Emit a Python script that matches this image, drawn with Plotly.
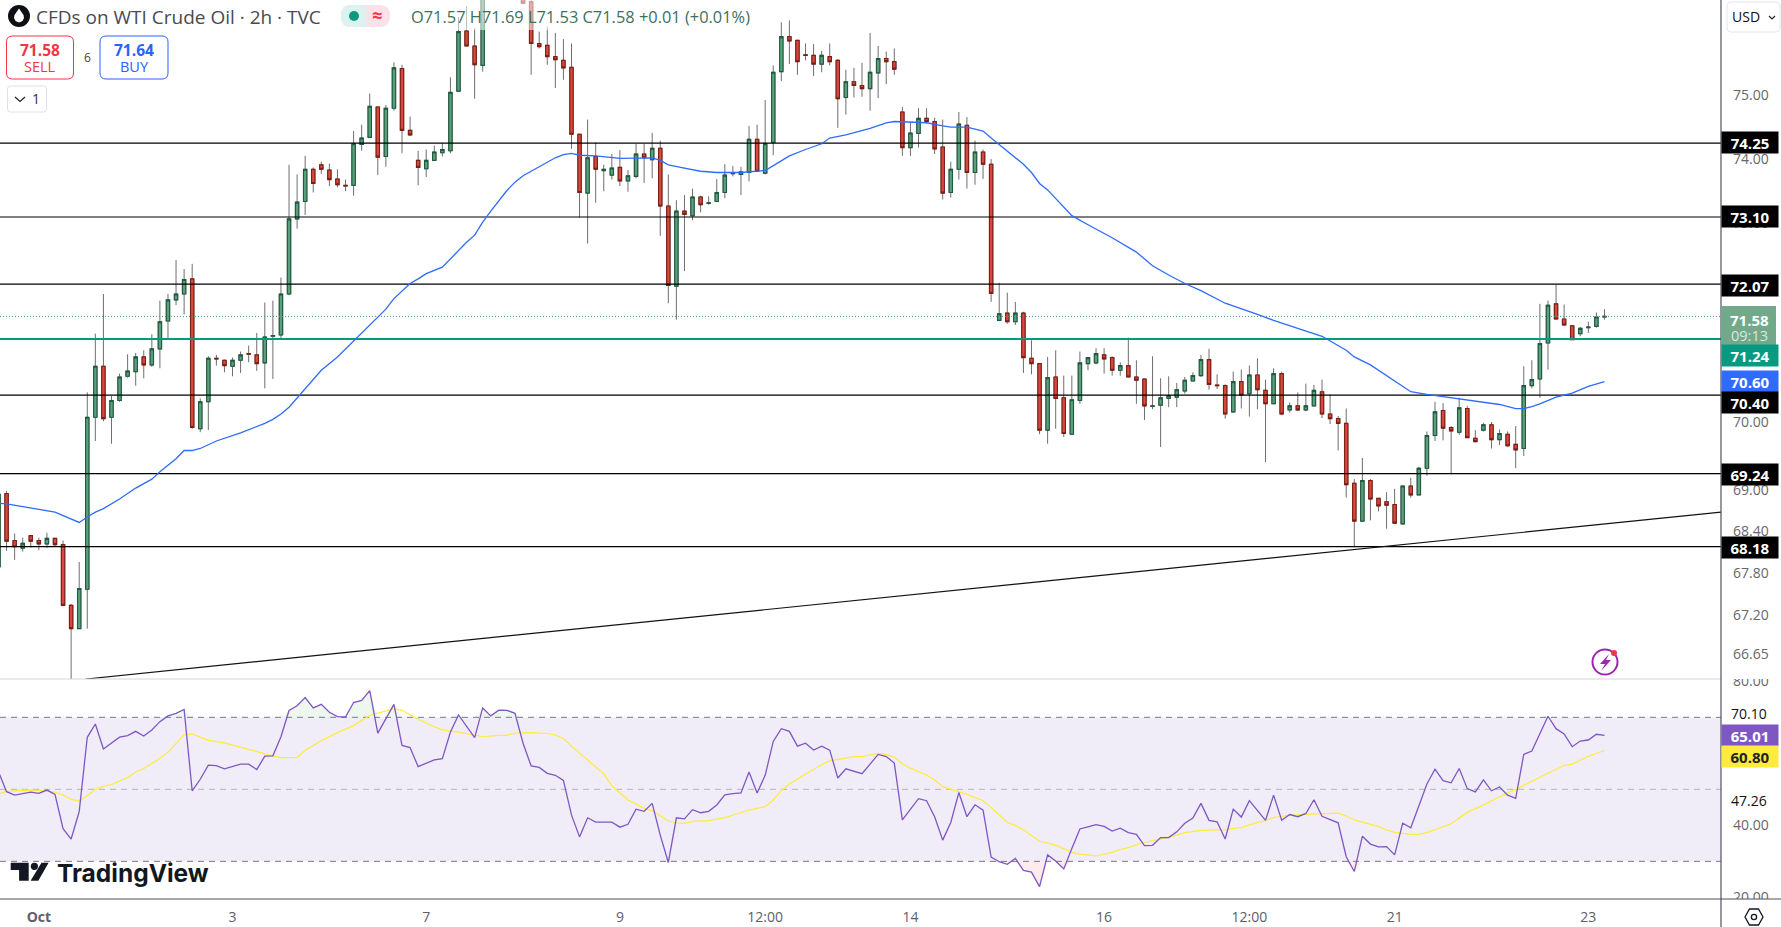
import math
import numpy as np
import plotly.graph_objects as go

N = None
opens = [67.89,68.95,68.27,68.16,68.34,68.27,68.22,68.30,68.21,67.34,
67.01,67.57,70.07,70.83,70.07,70.32,70.68,70.75,70.97,70.85,
71.09,71.51,71.83,71.92,72.15,69.90,70.30,70.95,70.92,70.83,
70.92,71.02,71.00,70.88,71.28,71.30,71.92,73.07,73.34,73.84,
73.91,73.83,73.69,73.59,73.59,74.23,74.34,74.82,74.04,74.80,
75.43,74.45,73.98,73.85,73.98,74.10,74.13,75.07,76.03,75.79,
75.48,N,N,N,N,76.60,76.50,75.83,75.80,75.62,
75.56,75.45,74.39,73.47,74.04,73.82,73.75,73.87,73.66,73.73,
74.08,73.99,74.17,73.27,72.04,73.19,73.12,73.41,73.31,73.34,
73.48,73.77,73.76,73.79,74.31,73.78,74.26,75.38,75.94,75.88,
75.65,75.64,75.50,75.62,75.56,74.97,75.22,75.16,75.11,75.36,
75.59,75.54,74.74,74.18,74.40,74.64,74.59,74.19,73.48,73.84,
74.53,73.79,74.11,73.92,71.52,71.63,71.50,71.63,70.95,70.87,
69.88,70.67,70.36,69.82,70.32,70.87,70.88,71.00,70.96,70.77,
70.84,70.67,70.64,70.23,70.25,70.35,70.37,70.46,70.61,70.69,
70.93,70.55,70.54,70.15,70.60,70.42,70.70,70.47,70.27,70.72,
70.18,70.24,70.18,70.24,70.45,70.12,70.05,69.98,69.10,68.55,
69.14,68.88,68.83,68.79,68.51,69.06,68.93,69.32,69.80,70.17,
69.92,69.85,70.20,69.76,69.88,69.96,69.74,69.82,69.67,69.61,
70.54,70.64,71.18,71.77,71.54,71.44,71.32,71.41,71.43,71.57]
highs = [68.98,68.99,68.37,68.31,68.34,68.31,68.38,68.30,68.27,67.36,
67.96,70.44,71.32,71.92,70.39,70.72,71.01,71.03,71.07,71.31,
71.82,71.92,72.44,72.30,72.38,70.35,70.98,71.00,70.93,70.96,
71.05,71.14,71.33,71.79,71.82,72.17,73.91,73.76,74.05,73.87,
73.96,73.93,73.84,73.68,74.44,74.54,75.03,74.82,74.85,75.53,
75.49,74.67,74.13,74.15,74.21,74.25,75.29,76.26,76.43,76.08,
76.90,N,N,N,N,76.70,76.70,76.02,76.10,76.00,
75.90,75.83,74.39,74.62,74.26,73.91,74.08,74.14,73.83,74.24,
74.24,74.41,74.29,73.76,73.36,73.44,73.54,73.43,73.42,73.69,
73.92,73.89,73.88,74.52,74.54,74.93,75.48,76.17,76.20,75.89,
75.83,75.82,75.71,75.83,75.58,75.41,75.44,75.52,76.00,75.79,
75.70,75.75,74.82,74.59,74.80,74.80,74.65,74.62,73.96,74.74,
74.66,74.29,74.15,74.00,72.09,71.94,71.80,71.65,71.22,70.87,
70.97,71.07,70.69,70.69,71.05,70.96,71.10,71.10,70.98,70.89,
71.26,70.92,70.64,70.98,70.65,70.68,70.58,70.67,70.74,71.00,
71.09,70.71,70.56,70.75,70.78,70.84,70.95,70.63,70.80,70.75,
70.29,70.44,70.57,70.55,70.63,70.41,70.09,70.20,69.16,69.47,
69.16,68.88,68.97,69.02,69.06,69.18,69.34,69.86,70.30,70.28,
69.94,70.36,70.24,69.88,69.99,70.00,69.89,69.86,69.94,70.83,
70.92,71.77,71.82,72.06,71.76,71.45,71.42,71.50,71.64,71.69]
lows = [67.80,68.12,67.99,68.11,68.17,68.13,68.16,68.18,67.33,66.28,
67.01,67.01,69.72,70.01,69.68,70.30,70.66,70.54,70.65,70.82,
70.80,71.23,71.75,71.61,69.90,69.85,69.88,70.84,70.74,70.68,
70.73,70.89,70.76,70.50,70.64,71.24,71.90,72.92,73.13,73.48,
73.77,73.58,73.56,73.50,73.43,74.13,74.34,73.75,73.88,74.76,
74.09,74.36,73.59,73.72,73.98,74.04,74.09,75.07,75.79,74.95,
75.38,N,N,N,N,76.47,75.33,75.75,75.49,75.12,
75.25,74.16,73.09,72.69,73.32,73.50,73.68,73.58,73.49,73.70,
73.63,73.70,72.81,71.78,71.53,72.27,73.05,73.17,73.29,73.34,
73.39,73.73,73.44,73.65,73.81,73.76,74.06,75.23,75.50,75.33,
75.56,75.31,75.37,75.48,74.49,74.70,74.97,74.98,74.76,74.96,
75.18,75.33,74.05,74.05,74.18,74.56,74.08,73.37,73.40,73.68,
73.54,73.60,73.69,71.80,71.52,71.47,71.45,70.73,70.71,69.82,
69.68,69.90,69.78,69.81,70.27,70.77,70.86,70.72,70.69,70.69,
70.67,70.27,70.03,70.19,69.63,70.22,70.22,70.42,70.61,70.67,
70.48,70.49,70.05,70.14,70.20,70.08,70.19,69.41,70.27,70.10,
70.14,70.16,70.16,70.24,70.06,69.97,69.58,68.89,68.17,68.54,
68.56,68.69,68.44,68.52,68.50,68.89,68.93,69.21,69.72,69.73,
69.23,69.81,69.77,69.71,69.86,69.61,69.66,69.63,69.32,69.50,
70.50,70.36,70.78,71.54,71.44,71.23,71.28,71.33,71.41,71.53]
closes = [68.94,68.26,68.18,68.23,68.26,68.22,68.30,68.21,67.34,67.01,
67.58,70.07,70.83,70.05,70.32,70.67,70.76,70.97,70.85,71.09,
71.50,71.83,71.92,72.14,69.92,70.30,70.95,70.94,70.84,70.92,
71.00,71.01,70.87,71.27,71.29,71.92,73.07,73.33,73.84,73.62,
73.84,73.68,73.60,73.58,74.24,74.33,74.83,74.03,74.80,75.44,
74.45,74.38,73.87,73.98,74.11,74.15,75.05,76.02,75.79,75.49,
76.60,N,N,N,N,76.48,75.83,75.78,75.62,75.57,
75.44,74.39,73.48,74.02,73.84,73.84,73.86,73.66,73.74,74.08,
74.02,74.17,73.27,72.05,73.19,73.14,73.41,73.29,73.32,73.48,
73.75,73.78,73.80,74.31,73.81,74.24,75.37,75.94,75.87,75.54,
75.64,75.50,75.64,75.54,74.95,75.22,75.16,75.11,75.37,75.59,
75.54,75.42,74.18,74.41,74.64,74.59,74.16,73.47,73.84,74.55,
73.79,74.11,73.92,71.93,71.62,71.50,71.63,70.96,70.87,69.88,
70.66,70.35,69.83,70.33,70.88,70.96,71.02,70.94,70.77,70.84,
70.67,70.62,70.24,70.24,70.36,70.39,70.48,70.62,70.69,70.93,
70.56,70.54,70.12,70.60,70.40,70.70,70.48,70.27,70.72,70.12,
70.24,70.18,70.24,70.47,70.12,70.05,69.98,69.08,68.55,69.14,
68.87,68.77,68.78,68.52,69.06,68.93,69.32,69.80,70.15,69.91,
69.87,70.21,69.77,69.71,69.96,69.74,69.83,69.65,69.59,70.54,
70.63,71.17,71.75,71.54,71.45,71.23,71.40,71.42,71.57,71.58]

ma_points = [(0,68.81),(1,68.80),(7,68.68),(10,68.53),(11,68.61),(12,68.68),(13,68.73),(15,68.87),(17,69.03),(19,69.16),
(20,69.27),(22,69.46),(23,69.58),(24,69.58),(25,69.61),(27,69.72),(30,69.84),(32,69.93),(33,69.98),(34,70.04),
(35,70.12),(36,70.22),(37,70.36),(38,70.50),(40,70.77),(42,70.97),(44,71.21),(45,71.32),(46,71.45),(47,71.57),
(48,71.69),(49,71.85),(51,72.08),(52,72.15),(53,72.23),(55,72.33),(56,72.46),(57,72.58),(58,72.71),(59,72.82),
(60,73.02),(61,73.19),(62,73.35),(63,73.51),(64,73.64),(65,73.74),(67,73.88),(69,74.02),(70,74.07),(71,74.09),
(72,74.06),(74,74.05),(77,74.01),(81,74.02),(82,73.98),(83,73.91),(85,73.86),(87,73.81),(89,73.79),(92,73.79),
(95,73.82),(96,73.90),(97,73.98),(98,74.05),(100,74.15),(102,74.24),(103,74.33),(105,74.38),(108,74.48),(110,74.57),
(111,74.59),(114,74.57),(115,74.57),(117,74.52),(118,74.50),(120,74.50),(122,74.44),(123,74.33),(125,74.13),(127,73.92),
(128,73.79),(129,73.62),(130,73.52),(132,73.25),(133,73.12),(135,72.98),(138,72.78),(141,72.56),(143,72.35),(145,72.21),
(147,72.08),(149,71.97),(152,71.78),(156,71.61),(158,71.52),(161,71.40),(164,71.28),(167,71.07),(168,70.97),(170,70.85),
(172,70.69),(174,70.54),(175,70.45),(177,70.41),(180,70.36),(183,70.31),(186,70.26),(188,70.20),(189,70.20),(190,70.23),
(191,70.27),(193,70.37),(195,70.43),(197,70.53),(199,70.60)]

rsi = [54.9,49.35,48.4,48.8,49.2,48.9,49.8,48.6,39.1,36.2,
43.8,64.45,68.15,61.2,62.8,64.5,64.9,66.1,64.8,66.5,
68.8,70.4,71.1,72.2,49.6,52.8,56.7,56.6,55.7,56.4,
57.0,57.0,55.5,59.2,59.3,64.6,71.9,73.2,75.5,72.6,
73.6,71.4,70.2,70.1,74.1,74.7,77.4,65.6,69.5,73.6,
62.2,61.6,56.3,57.2,58.2,58.5,65.9,70.65,67.6,64.35,
72.6,70.4,72.0,71.95,71.1,62.8,56.5,56.1,54.45,53.9,
52.5,42.9,36.8,42.1,40.9,40.9,40.9,39.5,40.3,44.5,
43.9,46.1,37.3,29.7,42.1,41.8,44.35,43.5,43.9,45.65,
48.5,48.8,49.0,54.8,49.0,53.9,63.3,66.85,66.1,62.0,
62.8,60.9,62.0,60.9,53.15,55.7,55.1,54.35,57.0,59.7,
59.1,57.3,41.5,44.6,47.4,46.85,42.4,35.9,40.8,49.1,
42.4,45.7,44.2,31.2,29.9,29.2,30.8,27.5,27.0,23.0,
31.8,30.1,27.9,33.6,39.0,39.6,40.2,39.7,38.4,39.2,
38.0,37.5,34.35,34.45,36.6,36.6,38.2,40.6,42.0,46.1,
41.4,41.0,36.2,44.5,42.3,46.85,44.0,41.4,48.4,41.4,
43.0,42.4,43.3,47.1,42.5,41.7,40.7,31.3,27.2,36.95,
34.8,34.0,34.1,31.8,40.6,39.35,45.2,51.5,55.6,52.4,
51.8,55.8,50.2,49.3,52.6,49.6,50.65,48.4,47.5,59.7,
60.65,65.6,70.3,66.85,65.4,61.85,63.4,63.7,65.3,65.01]

rsi_ma_idx = [0,1,3,5,7,8,9,10,11,12,13,14,16,17,18,20,21,22,23,24,26,28,30,32,34,
35,37,38,40,42,44,46,48,49,50,52,54,55,57,59,60,62,63,64,66,68,69,70,71,73,75,
76,78,80,81,83,84,85,86,88,90,91,93,95,96,97,98,100,102,103,105,106,107,109,110,111,
112,113,115,116,117,119,120,122,123,125,126,127,129,131,133,134,136,138,139,140,142,144,145,146,147,149,
152,154,156,157,158,160,162,166,167,168,171,172,173,175,176,177,180,181,182,184,186,188,190,192,194,195,197,198,199]
rsi_ma = [48.7,49.45,49.8,49.7,49.25,48.4,47.2,46.75,48.25,50,50.9,51.3,53.3,54.8,55.8,58.6,60.3,62.6,65.1,65.4,63.6,62.9,61.65,60.45,59.3,
58.8,58.9,60.85,63.5,65.75,67.7,70.5,71.7,72.4,71.95,69.45,67.4,66.5,65.9,64.9,64.6,65,65,65.65,65.75,65.5,65.1,64.1,62,58.15,54.3,
51,47.05,44.8,44.1,41.2,40.65,40.55,41.1,41.3,42.15,42.8,44.25,45.2,47.05,49.65,51.5,54.25,56.85,57.9,58.6,59.1,59.1,60,59.7,58.9,
57.1,55.9,54,52.6,50.75,49.35,48.6,46.85,45,40.8,40,38.8,35.65,34.5,32.5,32,31.5,32.5,33.3,33.8,35.3,36.2,36.65,37.3,38,38.6,
38.8,39.45,40.8,41.3,42.15,42.8,43.05,43.4,42.6,41.5,39.65,38.7,38.05,37.5,37.5,38,40.45,41.95,43.6,45.65,47.95,50,52.3,54.45,56.6,57,59.2,59.9,60.8]

levels = [74.25, 73.10, 72.07, 70.40, 69.24, 68.18]
green_level = 71.24
last_price = 71.58
trend_x = [10.84, 213.44]
trend_y = [66.30, 68.68]
price_ticks = [75, 74, 73, 72, 71, 70, 69, 68.4, 67.8, 67.2, 66.65]
rsi_ticks = [80, 40, 20]
time_idx = [5, 29, 53, 77, 95, 113, 137, 155, 173, 197]
time_txt = ["<b>Oct</b>", "3", "7", "9", "12:00", "14", "16", "12:00", "21", "23"]

W, H = 1781, 927
AX = 1721
PANE = 679
BOT = 899
XR = [0.186, 213.44]
FONT = "Open Sans"
fx = lambda x: x / W
fy = lambda y: 1 - y / H

x = np.arange(len(opens))
o = np.array(opens, dtype=float); h = np.array(highs, dtype=float)
l = np.array(lows, dtype=float); c = np.array(closes, dtype=float)
rsi_a = np.array(rsi, dtype=float)

fig = go.Figure()
for lv in levels:
    fig.add_trace(go.Scatter(x=XR, y=[lv, lv], mode="lines", line=dict(color="#000", width=1.2), hoverinfo="skip"))
fig.add_trace(go.Scatter(x=trend_x, y=trend_y, mode="lines", line=dict(color="#111", width=1.2), hoverinfo="skip"))
fig.add_trace(go.Scatter(x=XR, y=[last_price]*2, mode="lines", line=dict(color="#3c9a6e", width=1, dash="1px,2px"), hoverinfo="skip"))
fig.add_trace(go.Candlestick(x=x, open=o, high=h, low=l, close=c, whiskerwidth=0, hoverinfo="skip",
    increasing=dict(line=dict(color="#6e6e6e", width=1), fillcolor="#6e6e6e"),
    decreasing=dict(line=dict(color="#6e6e6e", width=1), fillcolor="#6e6e6e")))
fig.add_trace(go.Candlestick(x=x, open=o, high=np.maximum(o, c), low=np.minimum(o, c), close=c, whiskerwidth=0, hoverinfo="skip",
    increasing=dict(line=dict(color="#1f5b40", width=1.1), fillcolor="#5b9f7c"),
    decreasing=dict(line=dict(color="#7c1f17", width=1.1), fillcolor="#d9483a")))
fig.add_trace(go.Scatter(x=XR, y=[green_level]*2, mode="lines", line=dict(color="#089981", width=2), hoverinfo="skip"))
fig.add_trace(go.Scatter(x=[p[0] for p in ma_points], y=[p[1] for p in ma_points], mode="lines",
                         line=dict(color="#2f6bff", width=1.3), hoverinfo="skip"))

# RSI pane
fig.add_trace(go.Scatter(x=x, y=[70]*len(x), mode="lines", line=dict(width=0), xaxis="x2", yaxis="y2", hoverinfo="skip"))
fig.add_trace(go.Scatter(x=x, y=np.maximum(rsi_a, 70), mode="lines", line=dict(width=0), fill="tonexty",
                         fillcolor="rgba(76,175,80,0.10)", xaxis="x2", yaxis="y2", hoverinfo="skip"))
fig.add_trace(go.Scatter(x=x, y=[30]*len(x), mode="lines", line=dict(width=0), xaxis="x2", yaxis="y2", hoverinfo="skip"))
fig.add_trace(go.Scatter(x=x, y=np.minimum(rsi_a, 30), mode="lines", line=dict(width=0), fill="tonexty",
                         fillcolor="rgba(242,54,69,0.10)", xaxis="x2", yaxis="y2", hoverinfo="skip"))
fig.add_trace(go.Scatter(x=rsi_ma_idx, y=rsi_ma, mode="lines", line=dict(color="#ffeb3b", width=1.2),
                         xaxis="x2", yaxis="y2", hoverinfo="skip"))
fig.add_trace(go.Scatter(x=x, y=rsi_a, mode="lines", line=dict(color="#7e57c2", width=1.3),
                         xaxis="x2", yaxis="y2", hoverinfo="skip"))

shapes, notes = [], []

def rect(x0, y0, x1, y1, fill=None, line=None, lw=1, layer="above", r=0):
    if r:
        X0, X1 = fx(x0), fx(x1)
        Y0, Y1 = fy(y0), fy(y1)
        rx, ry = r / W, r / H
        p = (f"M {X0+rx} {Y0} L {X1-rx} {Y0} Q {X1} {Y0} {X1} {Y0-ry} L {X1} {Y1+ry} Q {X1} {Y1} {X1-rx} {Y1} "
             f"L {X0+rx} {Y1} Q {X0} {Y1} {X0} {Y1+ry} L {X0} {Y0-ry} Q {X0} {Y0} {X0+rx} {Y0} Z")
        shapes.append(dict(type="path", xref="paper", yref="paper", path=p, fillcolor=fill or "rgba(0,0,0,0)",
                           line=dict(color=line or "rgba(0,0,0,0)", width=lw), layer=layer))
    else:
        shapes.append(dict(type="rect", xref="paper", yref="paper", x0=fx(x0), x1=fx(x1), y0=fy(y0), y1=fy(y1),
                           fillcolor=fill or "rgba(0,0,0,0)", line=dict(color=line or "rgba(0,0,0,0)", width=lw if line else 0), layer=layer))

def poly(pts, fill=None, line=None, lw=1, close=True):
    s = "M " + " L ".join(f"{fx(a)} {fy(b)}" for a, b in pts) + (" Z" if close else "")
    shapes.append(dict(type="path", xref="paper", yref="paper", path=s, fillcolor=fill or "rgba(0,0,0,0)",
                       line=dict(color=line or "rgba(0,0,0,0)", width=lw if line else 0), layer="above"))

def circ(cx, cy, r, fill=None, line=None, lw=1):
    shapes.append(dict(type="circle", xref="paper", yref="paper", x0=fx(cx-r), x1=fx(cx+r), y0=fy(cy+r), y1=fy(cy-r),
                       fillcolor=fill or "rgba(0,0,0,0)", line=dict(color=line or "rgba(0,0,0,0)", width=lw if line else 0), layer="above"))

def text(xp, yp, s, size=14, color="#444", anchor="left", family=FONT):
    notes.append(dict(xref="paper", yref="paper", x=fx(xp), y=fy(yp), xanchor=anchor, yanchor="middle", text=s,
                      showarrow=False, font=dict(family=family, size=size, color=color), borderpad=0))

def tag(s, yc, bg, fg="#fff", hgt=21, size=15):
    notes.append(dict(xref="paper", yref="paper", x=fx(AX), y=fy(yc), xanchor="left", yanchor="middle", text=f"<b>{s}</b>",
                      showarrow=False, width=56, height=hgt, align="center", valign="middle", bgcolor=bg, borderpad=0,
                      font=dict(family=FONT, size=size, color=fg)))

# RSI band + guide lines
shapes.append(dict(type="rect", xref="paper", yref="y2", x0=0, x1=fx(AX), y0=30, y1=70, fillcolor="#f0ecf8",
                   line=dict(width=0), layer="below"))
for v, col in [(70, "#787b86"), (50, "#b2b5be"), (30, "#787b86")]:
    shapes.append(dict(type="line", xref="paper", yref="y2", x0=0, x1=fx(AX), y0=v, y1=v,
                       line=dict(color=col, width=1, dash="6px,5px"), layer="below"))

# translucent strip behind the header values
rect(400, 0, 770, 30, fill="rgba(255,255,255,0.55)")
# clip covers for the partly hidden scale labels
rect(AX+1, 668, W, PANE, fill="#fff")
rect(AX+1, BOT, W, 914, fill="#fff")
# frame lines
rect(0, PANE-0.5, AX, PANE+0.5, fill="#d6d6de")
rect(0, BOT-0.6, W, BOT+0.6, fill="#50535e")
rect(AX-0.6, 0, AX+0.6, H, fill="#50535e")

# header
circ(19, 16, 11, fill="#0d0f14")
poly([(19, 8.5), (23.5, 15), (24, 18), (22.5, 21), (19, 22.5), (15.5, 21), (14, 18), (14.5, 15)], fill="#fff")
text(34.5, 17, "CFDs on WTI Crude Oil · 2h · TVC", size=19, color="#4a4a4f")
rect(341, 5, 390, 27, fill="#fbe1e8", r=10)
rect(341, 5, 366, 27, fill="#dcf2ee", r=10)
rect(356, 5, 366, 27, fill="#dcf2ee")
circ(354, 16, 5, fill="#089981")
text(377, 15, "<b>≈</b>", size=18, color="#f23645", anchor="center")
text(410, 17, "O71.57 H71.69 L71.53 C71.58 +0.01 (+0.01%)", size=16.4, color="#3f6f5b")

rect(6.5, 36, 73.5, 79, fill="#fff", line="#f23645", lw=1, r=6)
text(40, 50, "<b>71.58</b>", size=15.5, color="#f23645", anchor="center")
text(40, 67, "SELL", size=14.5, color="#f23645", anchor="center")
text(87, 57, "6", size=12, color="#444", anchor="center")
rect(100, 36, 168, 79, fill="#fff", line="#2962ff", lw=1, r=6)
text(134, 50, "<b>71.64</b>", size=15.5, color="#2962ff", anchor="center")
text(134, 67, "BUY", size=14.5, color="#2962ff", anchor="center")
rect(7.5, 86, 46.5, 112, fill="#fff", line="#dfe1e8", lw=1, r=3)
poly([(15, 97), (20, 101.5), (25, 97)], line="#222", lw=1.2, close=False)
text(36, 98.5, "1", size=14, color="#333", anchor="center")

# currency button
rect(1727, 2, 1780, 32, fill="#fff", line="#e4e6ee", lw=1, r=4)
text(1731, 17, "USD", size=14, color="#111")
poly([(1769, 16), (1772, 19), (1775, 16)], line="#222", lw=1.2, close=False)

# right-side labels
tag("74.25", 142.7, "#000")
tag("73.10", 216.7, "#000")
tag("72.07", 285, "#000")
rect(AX, 306, AX+55, 345.5, fill="#71a98a")
text(AX+28, 320, "<b>71.58</b>", size=15, color="#fff", anchor="center")
text(AX+28, 335, "09:13", size=14.5, color="#dbe8e0", anchor="center")
tag("71.24", 355.7, "#089981")
tag("70.60", 381.5, "#2f6bff")
tag("70.40", 402.5, "#000")
tag("69.24", 474.5, "#000")
tag("68.18", 547.5, "#000")
tag("65.01", 735.5, "#7e57c2")
tag("60.80", 756.5, "#ffeb3b", fg="#222")
text(AX+28, 713.5, "70.10", size=14, color="#111", anchor="center")
text(AX+28, 800, "47.26", size=14, color="#111", anchor="center")

# lightning badge
circ(1605, 662, 12.5, line="#9c27b0", lw=2)
poly([(1609, 654), (1600, 664), (1605, 664), (1601, 671), (1611, 660), (1606, 660)], fill="#9c27b0")
circ(1614, 653, 3, fill="#f23645")

# logo
poly([(10.7, 862.7), (28.7, 862.7), (28.7, 880.7), (19.1, 880.7), (19.1, 870), (10.7, 870)], fill="#131722")
circ(34.4, 866.3, 3.6, fill="#131722")
poly([(41.5, 862.7), (48.6, 862.7), (38.3, 880.7), (30.6, 880.7)], fill="#131722")
text(56, 873, "<b>TradingView</b>", size=24.5, color="#131722", family="Inter")

# settings glyph
poly([(1745, 917), (1749.5, 909), (1758.5, 909), (1763, 917), (1758.5, 925), (1749.5, 925)], line="#131722", lw=1.3)
circ(1754, 917, 2.6, line="#131722", lw=1.3)

fig.update_layout(
    width=W, height=H, margin=dict(l=0, r=0, t=0, b=0, pad=0, autoexpand=False), paper_bgcolor="#fff", plot_bgcolor="#fff",
    showlegend=False, boxmode="overlay", boxgap=0.4, hovermode=False, shapes=shapes, annotations=notes,
    font=dict(family=FONT),
    xaxis=dict(domain=[0, fx(AX)], range=XR, showgrid=False, zeroline=False, showticklabels=False,
               rangeslider=dict(visible=False), anchor="y"),
    yaxis=dict(domain=[fy(PANE), 1], type="log", range=[math.log10(66.30), math.log10(76.53)], side="right",
               showgrid=False, zeroline=False, tickvals=price_ticks, ticktext=[f"{v:.2f}" for v in price_ticks],
               ticks="", ticklabelstandoff=11, tickfont=dict(family=FONT, size=14, color="#66676d"), anchor="x"),
    xaxis2=dict(domain=[0, fx(AX)], range=XR, showgrid=False, zeroline=False, tickvals=time_idx, ticktext=time_txt,
                ticks="", ticklabelstandoff=8, tickfont=dict(family=FONT, size=14, color="#5d606b"), anchor="y2"),
    yaxis2=dict(domain=[fy(BOT), fy(PANE)], range=[19.55, 80.64], side="right", showgrid=False, zeroline=False,
                tickvals=rsi_ticks, ticktext=[f"{v:.2f}" for v in rsi_ticks], ticks="", ticklabelstandoff=11,
                tickfont=dict(family=FONT, size=14, color="#66676d"), anchor="x2"),
)

fig.write_html("out.html", config=dict(displayModeBar=False),
               post_script="document.body.style.margin='0';document.body.style.overflow='hidden';")
